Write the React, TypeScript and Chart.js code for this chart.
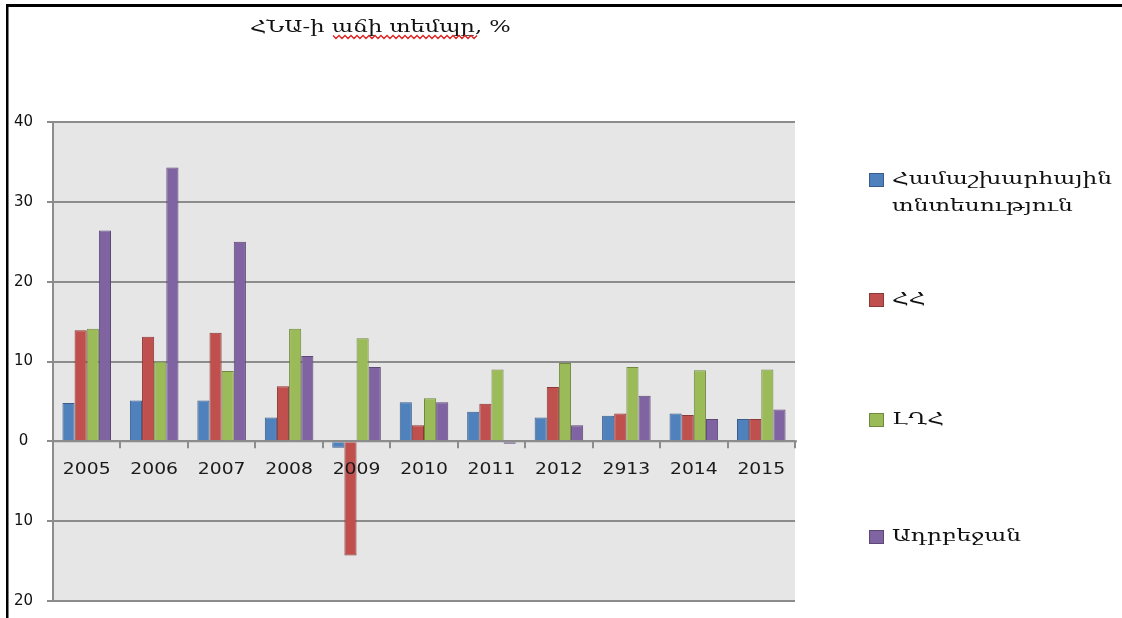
import React, { useEffect, useRef } from "react";
import { Chart, registerables } from "chart.js";

Chart.register(...registerables);

const titleText = "ՀՆԱ-ի աճի տեմպը, %";
const categories = ["2005", "2006", "2007", "2008", "2009", "2010", "2011", "2012", "2913", "2014", "2015"];
const seriesLabels = ["Համաշխարհային տնտեսություն", "ՀՀ", "ԼՂՀ", "Ադրբեջան"];
const worldEconomy = [4.8, 5.1, 5.1, 3.0, -0.8, 4.9, 3.7, 3.0, 3.2, 3.5, 2.8];
const armenia = [13.9, 13.1, 13.6, 6.9, -14.3, 2.0, 4.7, 6.8, 3.5, 3.3, 2.8];
const artsakh = [14.1, 10.0, 8.8, 14.1, 12.9, 5.4, 9.0, 9.8, 9.3, 8.9, 9.0];
const azerbaijan = [26.4, 34.3, 25.0, 10.7, 9.3, 4.9, -0.3, 2.0, 5.7, 2.8, 4.0];
const yMin = -20;
const yMax = 40;
const yStep = 10;

const fillColors = ["#4f81bd", "#c0504d", "#9bbb59", "#8064a2"];
const borderColors = ["#385d8a", "#8c3836", "#71893f", "#5c4776"];

const ARM_FONT = '"DejaVu Serif", "DejaVu Sans", serif';
const NUM_FONT = '"DejaVu Sans", Verdana, sans-serif';

function drawStretched(ctx: CanvasRenderingContext2D, text: string, x: number, y: number, sx: number) {
  ctx.save();
  ctx.translate(x, y);
  ctx.scale(sx, 1);
  ctx.fillText(text, 0, 0);
  ctx.restore();
}

const framePlugin = {
  id: "framePlugin",
  beforeDraw(chart: any) {
    const { ctx, chartArea: a } = chart;
    ctx.save();
    ctx.fillStyle = "#ffffff";
    ctx.fillRect(0, 0, chart.width, chart.height);
    ctx.fillStyle = "#e6e6e6";
    ctx.fillRect(a.left, a.top, a.right - a.left, a.bottom - a.top);
    ctx.fillStyle = "#000000";
    ctx.fillRect(6, 4, chart.width - 6, 3);
    ctx.fillRect(6, 4, 2.5, chart.height - 4);
    // title
    ctx.fillStyle = "#111111";
    ctx.font = "17px " + ARM_FONT;
    ctx.textBaseline = "alphabetic";
    ctx.textAlign = "left";
    drawStretched(ctx, titleText, 250, 32, 1.33);
    // spell-check wavy underline
    ctx.strokeStyle = "#e02020";
    ctx.lineWidth = 1.3;
    ctx.beginPath();
    let up = true;
    for (let x = 333; x <= 478; x += 3) {
      const yy = up ? 35.5 : 38.5;
      if (x === 333) ctx.moveTo(x, yy);
      else ctx.lineTo(x, yy);
      up = !up;
    }
    ctx.stroke();
    ctx.restore();
  },
};

const categoryAxisPlugin = {
  id: "categoryAxisPlugin",
  afterDatasetsDraw(chart: any) {
    const { ctx, chartArea: a } = chart;
    const xs = chart.scales.x;
    const ys = chart.scales.y;
    const y0 = ys.getPixelForValue(0);
    ctx.save();
    ctx.strokeStyle = "#8c8c8c";
    ctx.lineWidth = 2;
    ctx.beginPath();
    ctx.moveTo(a.left, y0);
    ctx.lineTo(a.right + 2, y0);
    for (let i = 1; i <= categories.length; i++) {
      const bx = Math.round(xs.getPixelForValue(i - 0.5));
      ctx.moveTo(bx, y0);
      ctx.lineTo(bx, y0 + 7);
    }
    ctx.stroke();
    ctx.fillStyle = "#1a1a1a";
    ctx.font = "15px " + NUM_FONT;
    ctx.textAlign = "left";
    ctx.textBaseline = "middle";
    categories.forEach((c, i) => {
      const cx = xs.getPixelForValue(i);
      const sx = 1.25;
      const w = ctx.measureText(c).width * sx;
      drawStretched(ctx, c, cx - w / 2, y0 + 29, sx);
    });
    ctx.restore();
  },
};

const legendLines: string[][] = [
  ["Համաշխարհային", "տնտեսություն"],
  ["ՀՀ"],
  ["ԼՂՀ"],
  ["Ադրբեջան"],
];
const legendY = [180, 300, 420, 537];

const customLegendPlugin = {
  id: "customLegendPlugin",
  afterDraw(chart: any) {
    const { ctx } = chart;
    ctx.save();
    chart.data.datasets.forEach((ds: any, i: number) => {
      const cy = legendY[i];
      ctx.fillStyle = ds.backgroundColor;
      ctx.fillRect(869, cy - 7, 15, 14);
      ctx.strokeStyle = ds.borderColor;
      ctx.lineWidth = 1;
      ctx.strokeRect(869.5, cy - 6.5, 14, 13);
      ctx.fillStyle = "#111111";
      ctx.font = "17px " + ARM_FONT;
      ctx.textAlign = "left";
      ctx.textBaseline = "middle";
      legendLines[i].forEach((line, j) => {
        drawStretched(ctx, line, 892, cy + j * 27, 1.37);
      });
    });
    ctx.restore();
  },
};

export default function App() {
  const canvasRef = useRef<HTMLCanvasElement | null>(null);

  useEffect(() => {
    document.body.style.margin = "0";
    const canvas = canvasRef.current;
    if (!canvas) return;
    const seriesData = [worldEconomy, armenia, artsakh, azerbaijan];
    const chart = new Chart(canvas, {
      type: "bar",
      data: {
        labels: categories,
        datasets: seriesData.map((d, i) => ({
          label: seriesLabels[i],
          data: d,
          backgroundColor: fillColors[i],
          borderColor: borderColors[i],
          borderWidth: 1,
          categoryPercentage: 0.72,
          barPercentage: 1.0,
        })),
      },
      options: {
        responsive: false,
        animation: false,
        devicePixelRatio: 1,
        layout: { padding: { left: 0, right: 327, top: 122, bottom: 17 } },
        plugins: {
          legend: { display: false },
          title: { display: false },
          tooltip: { enabled: false },
        },
        scales: {
          x: { display: false },
          y: {
            min: yMin,
            max: yMax,
            afterFit: (s: any) => {
              s.width = 53;
              s.paddingTop = 0;
              s.paddingBottom = 0;
            },
            ticks: {
              stepSize: yStep,
              callback: (v: any) => String(Math.abs(Number(v))),
              crossAlign: "center",
              padding: 14,
              color: "#111111",
              font: { family: NUM_FONT, size: 15, lineHeight: 0.2 },
            },
            grid: {
              color: "#8c8c8c",
              lineWidth: 2,
              tickLength: 6,
              drawOnChartArea: true,
            },
            border: { display: true, color: "#8c8c8c", width: 2 },
          },
        },
      },
      plugins: [framePlugin, categoryAxisPlugin, customLegendPlugin],
    });
    return () => chart.destroy();
  }, []);

  return (
    <div style={{ position: "absolute", left: 0, top: 0, width: 1122, height: 618 }}>
      <canvas ref={canvasRef} width={1122} height={618} />
    </div>
  );
}
